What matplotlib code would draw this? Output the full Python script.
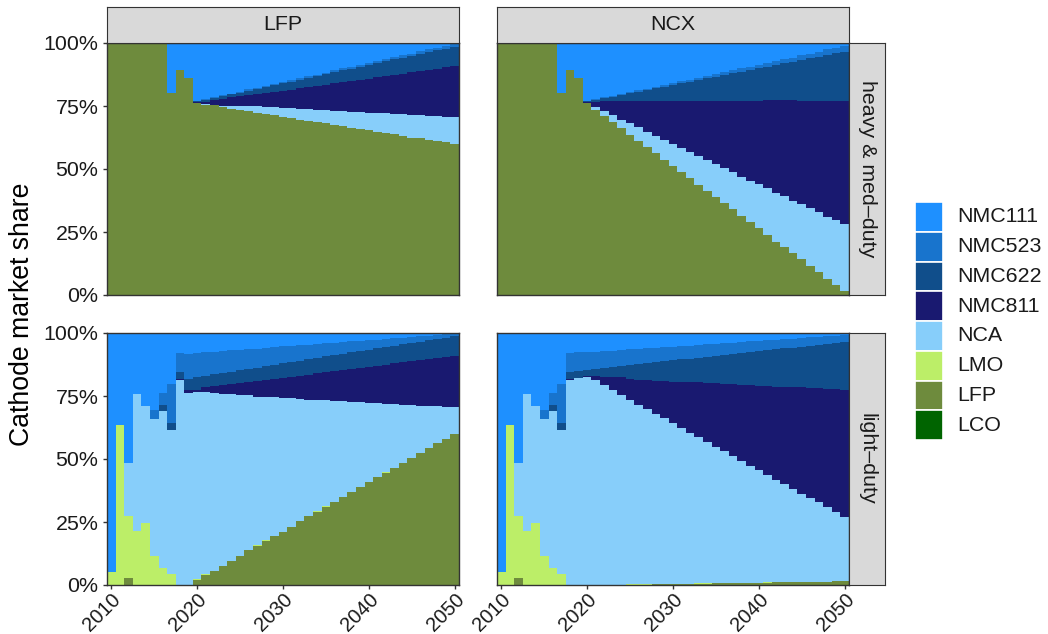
import numpy as np
import matplotlib.pyplot as plt
from matplotlib.patches import Rectangle

plt.rcParams['font.family'] = ['Liberation Sans', 'DejaVu Sans']

years = np.arange(2010, 2051)
cathodes = ['NMC111', 'NMC523', 'NMC622', 'NMC811', 'NCA', 'LMO', 'LFP', 'LCO']
colours = ['#1E90FF', '#1874CD', '#104E8B', '#191970', '#87CEFA', '#BCEE68', '#6E8B3D', '#006400']
scenarios = ['LFP', 'NCX']
segments = ['heavy & med\u2013duty', 'light\u2013duty']

# market shares in %, one value per year 2010..2050
lco = [0, 0, 0, 0, 0, 0, 0, 0, 0, 0, 0, 0, 0, 0, 0, 0, 0, 0, 0, 0, 0, 0, 0, 0, 0, 0, 0, 0, 0, 0, 0, 0, 0, 0, 0, 0, 0, 0, 0, 0, 0]
no_lmo = [0, 0, 0, 0, 0, 0, 0, 0, 0, 0, 0, 0, 0, 0, 0, 0, 0, 0, 0, 0, 0, 0, 0, 0, 0, 0, 0, 0, 0, 0, 0, 0, 0, 0, 0, 0, 0, 0, 0, 0, 0]

# heavy & med-duty, LFP scenario
hl_lfp = [100, 100, 100, 100, 100, 100, 100, 80.2, 89.4, 86.2, 76.2,
          75.4, 75.2, 74.6, 73.8, 73.4, 73.0, 72.2, 71.8, 71.3, 70.5, 70.1, 69.5, 69.1, 68.7, 68.1,
          67.3, 66.9, 66.1, 65.7, 65.3, 64.5, 64.1, 63.7, 62.9, 62.5, 62.2, 61.4, 61.0, 60.6, 59.9]
hl_nca = [0, 0, 0, 0, 0, 0, 0, 0, 0, 0, 0,
          0.4, 0.3, 0.4, 1.2, 1.6, 2.0, 2.8, 2.8, 3.3, 3.7, 4.1, 4.3, 4.7, 4.7, 5.3,
          5.7, 6.1, 6.5, 6.9, 6.9, 7.7, 8.1, 8.1, 8.9, 8.9, 9.2, 9.6, 10.0, 10.0, 10.7]
hl_nmc811 = [0, 0, 0, 0, 0, 0, 0, 0, 0, 0, 0.5,
             0.7, 1.9, 2.7, 3.5, 4.0, 4.4, 4.8, 5.6, 6.1, 6.9, 7.3, 8.3, 8.7, 9.5, 10.0,
             11.2, 11.6, 12.4, 12.8, 13.6, 14.3, 14.8, 15.6, 16.0, 16.9, 17.3, 18.1, 18.5, 19.8, 20.4]
hl_nmc622 = [0, 0, 0, 0, 0, 0, 0, 0, 0, 0, 0.3,
             0.9, 0.7, 1.2, 1.1, 1.3, 1.7, 2.0, 2.3, 2.5, 2.9, 3.2, 3.3, 3.7, 4.0, 4.2,
             4.2, 4.5, 4.8, 5.1, 5.5, 5.5, 5.7, 6.1, 6.4, 6.6, 7.0, 7.3, 7.6, 7.4, 7.6]
hl_nmc523 = [0, 0, 0, 0, 0, 0, 0, 0, 0, 0, 0,
             0.3, 0.3, 0.3, 0.3, 0.3, 0.5, 0.5, 0.5, 0.5, 0.5, 0.6, 0.6, 0.6, 0.6, 0.6,
             0.8, 0.8, 0.8, 0.8, 0.8, 0.9, 0.9, 0.9, 0.9, 0.9, 1.1, 1.1, 1.1, 1.1, 1.1]
hl_nmc111 = [0, 0, 0, 0, 0, 0, 0, 19.8, 10.6, 13.8, 23.0,
             22.3, 21.6, 20.8, 20.1, 19.4, 18.4, 17.7, 17.0, 16.3, 15.5, 14.7, 14.0, 13.2, 12.5, 11.8,
             10.8, 10.1, 9.4, 8.7, 7.9, 7.1, 6.4, 5.6, 4.9, 4.2, 3.2, 2.5, 1.8, 1.1, 0.3]

# heavy & med-duty, NCX scenario
hn_lfp = [100, 100, 100, 100, 100, 100, 100, 80.2, 89.4, 86.2, 76.2,
          73.4, 71.0, 68.6, 66.3, 63.5, 61.1, 58.7, 56.3, 53.5, 51.1, 48.7, 46.3, 43.5, 41.2, 38.8,
          36.4, 34.0, 31.2, 28.8, 26.4, 24.0, 21.2, 18.9, 16.5, 14.1, 11.7, 9.3, 6.5, 4.1, 1.7]
hn_nca = [0, 0, 0, 0, 0, 0, 0, 0, 0, 0, 0,
          1.2, 2.0, 2.8, 3.1, 4.7, 5.5, 5.9, 6.7, 8.0, 8.8, 9.6, 10.4, 11.6, 12.3, 13.1,
          13.9, 14.8, 15.7, 16.6, 17.5, 18.4, 19.3, 20.2, 21.0, 21.9, 22.8, 23.7, 24.6, 25.5, 26.3]
hn_nmc811 = [0, 0, 0, 0, 0, 0, 0, 0, 0, 0, 0.5,
             1.8, 4.0, 5.6, 7.6, 8.8, 10.4, 12.4, 14.0, 15.5, 17.1, 18.7, 20.3, 21.9, 23.5, 25.1,
             26.7, 28.2, 30.1, 31.6, 33.1, 34.8, 36.7, 38.1, 39.7, 41.0, 42.5, 44.0, 45.9, 47.4, 49.0]
hn_nmc622 = [0, 0, 0, 0, 0, 0, 0, 0, 0, 0, 0.3,
             1.0, 1.1, 1.7, 2.4, 3.0, 3.7, 4.4, 5.0, 5.7, 6.3, 7.0, 7.7, 8.3, 9.0, 9.6,
             10.3, 11.0, 11.6, 12.3, 12.9, 13.4, 14.1, 14.7, 15.4, 16.2, 16.9, 17.6, 18.2, 18.9, 19.5]
hn_nmc523 = [0, 0, 0, 0, 0, 0, 0, 0, 0, 0, 0,
             0.3, 0.3, 0.3, 0.3, 0.5, 0.5, 0.5, 0.5, 0.8, 0.8, 0.8, 0.8, 1.0, 1.0, 1.0,
             1.0, 1.3, 1.3, 1.3, 1.3, 1.6, 1.6, 1.6, 1.6, 1.9, 1.9, 1.9, 2.3, 2.3, 2.3]
hn_nmc111 = [0, 0, 0, 0, 0, 0, 0, 19.8, 10.6, 13.8, 23.0,
             22.3, 21.6, 21.0, 20.3, 19.5, 18.8, 18.1, 17.5, 16.5, 15.9, 15.2, 14.5, 13.7, 13.0, 12.4,
             11.7, 10.7, 10.1, 9.4, 8.8, 7.8, 7.1, 6.5, 5.8, 4.9, 4.2, 3.5, 2.5, 1.8, 1.2]

# light-duty, LFP scenario
ll_lfp = [0, 0, 2.9, 0, 0, 0, 0, 0, 0, 0, 2.0,
          4.0, 5.7, 7.7, 9.7, 11.7, 13.7, 15.5, 17.4, 19.3, 21.2, 23.2, 25.2, 27.2, 29.0, 30.9,
          32.8, 34.8, 36.8, 38.9, 40.8, 42.8, 44.5, 46.5, 48.3, 50.3, 52.3, 54.3, 56.3, 58.0, 59.9]
ll_lmo = [5.3, 63.5, 24.3, 21.6, 24.8, 11.7, 6.9, 4.5, 0, 0, 0.4,
          0.3, 0, 0, 0, 0, 0, 0.3, 0.3, 0, 0, 0, 0, 0, 0.3, 0.3,
          0, 0, 0, 0, 0, 0, 0.3, 0, 0, 0, 0, 0, 0, 0, 0]
ll_nca = [0, 0, 21.3, 54.2, 46.2, 54.2, 62.2, 57.0, 81.4, 76.2, 74.2,
          72.1, 70.5, 68.0, 66.0, 63.6, 61.6, 59.0, 57.1, 55.5, 53.0, 51.0, 48.6, 46.2, 44.1, 42.2,
          40.4, 38.4, 36.0, 33.9, 31.6, 29.6, 27.2, 25.5, 23.3, 21.3, 18.9, 16.9, 14.9, 12.8, 10.9]
ll_nmc811 = [0, 0, 0, 0, 0, 0, 0, 0, 0.4, 1.2, 0.8,
             2.1, 2.6, 3.7, 4.0, 4.8, 5.2, 6.1, 6.5, 7.0, 8.0, 8.5, 9.3, 10.1, 10.7, 11.1,
             11.7, 12.2, 13.0, 13.4, 14.3, 14.7, 15.5, 16.0, 16.8, 17.2, 18.2, 18.6, 19.0, 19.6, 19.9]
ll_nmc622 = [0, 0, 0, 0, 0, 0, 2.3, 2.8, 2.8, 4.4, 5.1,
             4.6, 4.8, 4.8, 5.0, 5.2, 5.3, 5.4, 5.6, 5.6, 5.8, 5.8, 5.9, 6.1, 6.0, 6.2,
             6.3, 6.3, 6.5, 6.6, 6.7, 6.8, 6.9, 7.0, 7.1, 7.3, 7.2, 7.3, 7.5, 7.8, 8.0]
ll_nmc523 = [0, 0, 0, 0, 0, 3.6, 4.8, 15.5, 7.6, 10.0, 9.5,
             9.2, 8.9, 8.6, 8.4, 8.1, 7.8, 7.5, 7.2, 6.9, 6.7, 6.4, 6.1, 5.8, 5.5, 5.2,
             5.0, 4.7, 4.4, 4.1, 3.8, 3.5, 3.3, 3.0, 2.7, 2.4, 2.1, 1.8, 1.6, 1.3, 1.0]
ll_nmc111 = [94.7, 36.5, 51.5, 24.2, 29.0, 30.5, 23.8, 20.2, 7.8, 8.2, 8.0,
             7.7, 7.5, 7.2, 6.9, 6.6, 6.4, 6.2, 5.9, 5.7, 5.3, 5.1, 4.9, 4.6, 4.4, 4.1,
             3.8, 3.6, 3.3, 3.1, 2.8, 2.6, 2.3, 2.0, 1.8, 1.5, 1.3, 1.1, 0.7, 0.5, 0.3]

# light-duty, NCX scenario
ln_lfp = [0, 0, 2.9, 0, 0, 0, 0, 0, 0, 0, 0,
          0, 0, 0, 0, 0, 0, 0, 0.4, 0.4, 0.4, 0.4, 0.4, 0.4, 0.4, 0.8,
          0.8, 0.8, 0.8, 0.8, 0.8, 0.8, 1.3, 1.3, 1.3, 1.3, 1.3, 1.3, 1.3, 1.7, 1.7]
ln_lmo = [5.3, 63.5, 24.3, 21.6, 24.8, 11.7, 6.9, 4.5, 0, 0, 0,
          0, 0, 0, 0, 0.3, 0.3, 0.3, 0, 0, 0, 0, 0, 0.3, 0.3, 0,
          0, 0, 0, 0, 0, 0.3, 0, 0, 0, 0, 0, 0, 0, 0, 0]
ln_nca = [0, 0, 21.3, 54.2, 46.2, 54.2, 62.2, 57.0, 81.4, 82.1, 82.7,
          81.4, 79.4, 77.4, 75.4, 73.1, 71.1, 69.4, 67.5, 65.7, 63.7, 61.8, 60.0, 57.9, 55.9, 53.9,
          52.2, 50.3, 48.5, 46.6, 44.8, 42.7, 40.5, 38.7, 36.8, 35.0, 33.1, 31.5, 29.5, 27.2, 25.1]
ln_nmc811 = [0, 0, 0, 0, 0, 0, 0, 0, 0.4, 0, 0.3,
             1.6, 3.1, 5.0, 7.0, 8.4, 10.0, 11.7, 13.1, 14.9, 16.6, 18.5, 20.1, 21.9, 23.5, 25.4,
             26.8, 28.7, 30.1, 32.0, 33.4, 35.2, 36.8, 38.6, 40.3, 42.1, 43.6, 45.2, 46.8, 48.7, 50.4]
ln_nmc622 = [0, 0, 0, 0, 0, 0, 2.3, 2.8, 2.8, 2.9, 2.4,
             2.8, 3.7, 4.1, 4.5, 5.5, 6.2, 6.6, 7.4, 7.7, 8.4, 8.8, 9.3, 9.7, 10.5, 10.8,
             11.5, 11.9, 12.6, 13.0, 13.8, 14.1, 14.9, 15.3, 15.8, 16.2, 17.0, 17.3, 18.1, 18.5, 19.2]
ln_nmc523 = [0, 0, 0, 0, 0, 3.6, 4.8, 15.5, 7.6, 7.4, 7.0,
             6.8, 6.7, 6.5, 6.4, 6.2, 6.1, 6.0, 5.8, 5.7, 5.5, 5.4, 5.2, 5.1, 5.0, 4.8,
             4.7, 4.5, 4.4, 4.3, 4.1, 4.0, 3.8, 3.7, 3.6, 3.4, 3.3, 3.1, 3.0, 2.8, 2.7]
ln_nmc111 = [94.7, 36.5, 51.5, 24.2, 29.0, 30.5, 23.8, 20.2, 7.8, 7.6, 7.6,
             7.4, 7.1, 7.0, 6.7, 6.5, 6.3, 6.0, 5.8, 5.6, 5.4, 5.1, 5.0, 4.7, 4.4, 4.3,
             4.0, 3.8, 3.6, 3.3, 3.1, 2.9, 2.7, 2.4, 2.2, 2.0, 1.7, 1.6, 1.3, 1.1, 0.9]

# stacking order bottom -> top (LCO at the bottom, NMC111 on top)
panels = {
    (0, 0): [lco, hl_lfp, no_lmo, hl_nca, hl_nmc811, hl_nmc622, hl_nmc523, hl_nmc111],
    (0, 1): [lco, hn_lfp, no_lmo, hn_nca, hn_nmc811, hn_nmc622, hn_nmc523, hn_nmc111],
    (1, 0): [lco, ll_lfp, ll_lmo, ll_nca, ll_nmc811, ll_nmc622, ll_nmc523, ll_nmc111],
    (1, 1): [lco, ln_lfp, ln_lmo, ln_nca, ln_nmc811, ln_nmc622, ln_nmc523, ln_nmc111],
}
stack_cols = colours[::-1]

W, H = 1048, 634
fig = plt.figure(figsize=(W / 100, H / 100), dpi=100)

def rect(x, y, w, h):
    return [x / W, 1 - (y + h) / H, w / W, h / H]

px_left = [107, 497]
px_top = [43, 333]
pw, ph = 352, 252
dark = '#333333'
txt = '#1a1a1a'
fs = 15.4

for (r, c), series in panels.items():
    ax = fig.add_axes(rect(px_left[c], px_top[r], pw, ph))
    bottom = np.zeros(len(years))
    for vals, col in zip(series, stack_cols):
        vals = np.array(vals, dtype=float)
        ax.bar(years, vals, bottom=bottom, width=1.0, color=col, linewidth=0, antialiased=False)
        bottom += vals
    ax.set_xlim(2009.5, 2050.5)
    ax.set_ylim(0, 100)
    for s in ax.spines.values():
        s.set_color(dark)
        s.set_linewidth(1.0)
    ax.tick_params(colors=dark, labelcolor=txt, labelsize=fs, length=3.2, width=1, pad=3)
    if c == 0:
        ax.set_yticks([0, 25, 50, 75, 100])
        ax.set_yticklabels(['0%', '25%', '50%', '75%', '100%'])
    else:
        ax.tick_params(left=False, labelleft=False)
    if r == 1:
        ax.set_xticks([2010, 2020, 2030, 2040, 2050])
        ax.set_xticklabels(['2010', '2020', '2030', '2040', '2050'], rotation=45,
                           ha='right', va='top', rotation_mode='anchor')
        ax.tick_params(axis='x', labelsize=14.5, pad=0.5)
    else:
        ax.tick_params(bottom=False, labelbottom=False)

    # facet strips
    if r == 0:
        sx = fig.add_axes(rect(px_left[c], 7, pw, 36))
        sx.set_facecolor('#D9D9D9')
        sx.set_xticks([])
        sx.set_yticks([])
        for s in sx.spines.values():
            s.set_color(dark)
        sx.text(0.5, 0.5, scenarios[c], ha='center', va='center', fontsize=fs, color=txt,
                transform=sx.transAxes)
    if c == 1:
        sy = fig.add_axes(rect(849, px_top[r], 36, ph))
        sy.set_facecolor('#D9D9D9')
        sy.set_xticks([])
        sy.set_yticks([])
        for s in sy.spines.values():
            s.set_color(dark)
        sy.text(0.5, 0.5, segments[r], ha='center', va='center', fontsize=fs, color=txt,
                rotation=-90, transform=sy.transAxes)

fig.text(22 / W, 1 - 314 / H, 'Cathode market share', rotation=90, ha='center', va='center',
         fontsize=19.2, color='black')

# legend drawn by hand: 8 stacked keys with white separators
lax = fig.add_axes(rect(915, 202, 133, 238))
lax.set_xlim(0, 133)
lax.set_ylim(238, 0)
lax.axis('off')
key_h = 238 / len(cathodes)
for i, (name, col) in enumerate(zip(cathodes, colours)):
    lax.add_patch(Rectangle((0, i * key_h), 28, key_h, facecolor=col, edgecolor='white', linewidth=1.2))
    lax.text(42, (i + 0.5) * key_h, name, ha='left', va='center', fontsize=fs, color=txt)

fig.savefig('out.png', dpi=100)
